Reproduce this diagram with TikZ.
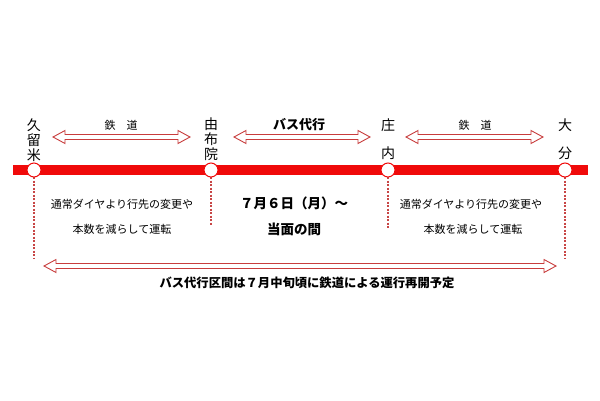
\documentclass[tikz,border=0pt]{standalone}
\usepackage{fontspec}
\setmainfont{Noto Sans CJK JP}
\definecolor{linered}{RGB}{240,10,10}
\definecolor{arrred}{RGB}{200,60,60}
\definecolor{dotred}{RGB}{200,70,70}
\newcommand\hollowarrow[3]{%
  \draw[arrowline] (#1,#3) -- ++(12,-6.5) -- ++(0,4) -- (#2-12,#3-2.5) -- ++(0,-4) -- (#2,#3)
    -- ++(-12,6.5) -- ++(0,-4) -- (#1+12,#3+2.5) -- ++(0,4) -- cycle;}
\begin{document}
\begin{tikzpicture}[x=1pt,y=-1pt,
  arrowline/.style={draw=arrred,fill=white,line width=0.9pt,line join=miter},
  station/.style={circle,draw=linered,fill=white,line width=1pt,minimum size=14pt,inner sep=0pt},
  stname/.style={font=\fontsize{14}{17}\selectfont,align=center,inner sep=0pt},
  dotline/.style={draw=dotred,line width=1.1pt,dash pattern=on 2pt off 1.5pt},
  note/.style={font=\fontsize{11}{13}\selectfont,inner sep=0pt},
  secl/.style={font=\fontsize{11}{13}\selectfont,inner sep=0pt},
  big/.style={font=\fontsize{13.5}{16}\selectfont\bfseries,inner sep=0pt}]
\useasboundingbox (0,0) rectangle (600,400);
% red line
\coordinate (L) at (13,170);
\coordinate (R) at (588,170);
\draw[linered,line width=10pt] (L) -- (R);
% dotted lines
\coordinate (d1) at (34,258);
\coordinate (d2) at (211,225);
\coordinate (d3) at (388,228);
\coordinate (d4) at (565,258);
\draw[dotline] (34,177) -- (d1);
\draw[dotline] (211,177) -- (d2);
\draw[dotline] (388,177) -- (d3);
\draw[dotline] (565,177) -- (d4);
% stations
\node[station] (s1) at (34,170) {};
\node[station] (s2) at (211,170) {};
\node[station] (s3) at (388,170) {};
\node[station] (s4) at (565,170) {};
\node[stname] (n1a) at (34,125) {久};
\node[stname] (n1b) at (34,140) {留};
\node[stname] (n1c) at (34,155) {米};
\node[stname] (n2a) at (211,124) {由};
\node[stname] (n2b) at (211,139) {布};
\node[stname] (n2c) at (211,154) {院};
\node[stname] (n3a) at (388,125) {庄};
\node[stname] (n3b) at (388,153) {内};
\node[stname] (n4a) at (565,125) {大};
\node[stname] (n4b) at (565,153) {分};
% section arrows
\hollowarrow{53}{190}{137}
\hollowarrow{234}{370}{137}
\hollowarrow{406}{543}{137}
\node[secl] (t1) at (121,125) {鉄　道};
\node[font=\fontsize{13}{15}\selectfont\bfseries,inner sep=0pt] (t2) at (299,125) {バス代行};
\node[secl] (t3) at (475,125) {鉄　道};
% notes
\node[note] (a1) at (122,204) {通常ダイヤより行先の変更や};
\node[note] (a2) at (122,229) {本数を減らして運転};
\node[note] (b1) at (471,204) {通常ダイヤより行先の変更や};
\node[note] (b2) at (473,229) {本数を減らして運転};
\node[big] (m1) at (294,203) {７月６日（月）～};
\node[big] (m2) at (294,229) {当面の間};
% bottom arrow
\hollowarrow{44}{556}{266}
\node[font=\fontsize{12.3}{14}\selectfont\bfseries,inner sep=0pt] (bt) at (307,283) {バス代行区間は７月中旬頃に鉄道による運行再開予定};
\end{tikzpicture}
\end{document}
